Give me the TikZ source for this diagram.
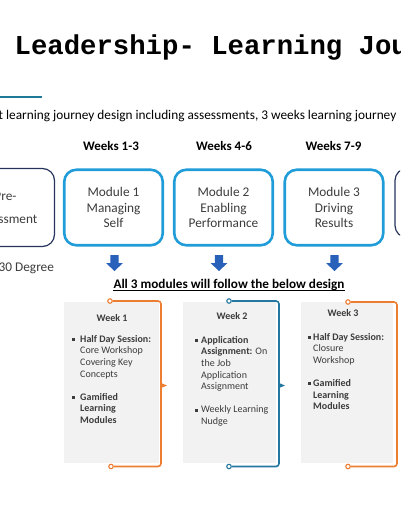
\documentclass[tikz,border=0pt]{standalone}
\usepackage{fontspec}
\setmainfont{Carlito}
\newfontfamily\monofont{Liberation Mono}
\usetikzlibrary{positioning}

\definecolor{modblue}{RGB}{32,156,216}
\definecolor{navyline}{RGB}{38,52,92}
\definecolor{arrowblue}{RGB}{40,96,186}
\definecolor{linkorange}{RGB}{237,125,49}
\definecolor{linkteal}{RGB}{36,120,160}
\definecolor{panelgray}{RGB}{242,242,242}
\definecolor{bodygray}{RGB}{60,60,60}
\definecolor{ruleteal}{RGB}{30,122,150}

\tikzset{
  modbox/.style={draw=modblue, line width=2.6pt, rounded corners=12pt, minimum width=98.5pt, minimum height=75.5pt, inner sep=0pt, align=center, text=bodygray, font=\fontsize{13.3}{15.5}\selectfont},
  sidebox/.style={draw=navyline, line width=1.2pt, rounded corners=12pt, inner sep=0pt, align=center, text=bodygray, font=\fontsize{13.3}{15.5}\selectfont},
  weekhead/.style={anchor=base, inner sep=0pt, font=\fontsize{13}{15}\selectfont\bfseries},
  weekpanel/.style={fill=panelgray, inner sep=0pt, minimum height=161pt},
  weeklabel/.style={anchor=base, inner sep=0pt, text=bodygray, font=\fontsize{10}{12}\selectfont\bfseries},
  weektext/.style={anchor=base west, inner sep=0pt, align=left, text=bodygray, font=\fontsize{10}{11.7}\selectfont},
  linkend/.style={circle, fill=white, line width=1.1pt, inner sep=0pt, minimum size=4.5pt},
  link/.style={line width=1.6pt, rounded corners=3pt},
}

\begin{document}
\begin{tikzpicture}[x=1pt,y=-1pt]
\useasboundingbox (0,0) rectangle (400,516);
\clip (0,0) rectangle (400,516);

\node (title) at (14.5,54.5) [anchor=base west, inner sep=0pt, font=\monofont\bfseries\fontsize{27.3}{30}\selectfont] {Leadership- Learning Jou};
\draw [ruleteal, line width=2pt] (0,96.7) -- (41.7,96.7);
\node (intro) at (-1.5,119.5) [anchor=base west, inner sep=0pt, font=\fontsize{13.3}{15}\selectfont] {t learning journey design including assessments, 3 weeks learning journey};

\node (wh1) at (111,150) [weekhead] {Weeks 1-3};
\node (wh2) at (224,150) [weekhead] {Weeks 4-6};
\node (wh3) at (333.5,150) [weekhead] {Weeks 7-9};

\node (pre) at (5.5,207.5) [sidebox, minimum width=98pt, minimum height=78pt] {Pre-\\[7.8pt]Assessment};
\node (mod1) at (113.5,207.5) [modbox] {Module 1\\Managing\\Self};
\node (mod2) at (223.5,207.5) [modbox] {Module 2\\Enabling\\Performance};
\node (mod3) at (334,207.5) [modbox] {Module 3\\Driving\\Results};
\node (post) at (445,203) [sidebox, minimum width=100pt, minimum height=69pt] {};
\node (deg) at (-1.5,271.5) [anchor=base west, inner sep=0pt, text=bodygray, font=\fontsize{13.3}{15.5}\selectfont] {30 Degree};

\foreach \ax in {114.5,219,334.5}
  \fill [arrowblue] (\ax-4.2,255) -- (\ax+4.2,255) -- (\ax+4.2,263) -- (\ax+8.5,263)
    -- (\ax,271) -- (\ax-8.5,263) -- (\ax-4.2,263) -- cycle;

\node (design) at (229,288) [anchor=base, inner sep=0pt, font=\fontsize{13.2}{15}\selectfont\bfseries] {All 3 modules will follow the below design};
\draw [line width=0.9pt] ([yshift=-2.8pt]design.base west) -- ([yshift=-2.8pt]design.base east);

\node (wk1) at (111.3,382.5) [weekpanel, minimum width=95.5pt] {};
\node (wk2) at (229.5,382.5) [weekpanel, minimum width=93pt] {};
\node (wk3) at (347,382.5) [weekpanel, minimum width=92pt] {};

\node (wl1) at (112,321) [weeklabel] {Week 1};
\node (wl2) at (232,319) [weeklabel] {Week 2};
\node (wl3) at (343,316.5) [weeklabel] {Week 3};

\node (wt1) at (80,423.6) [weektext] {\textbf{Half Day Session:}\\Core Workshop\\Covering Key\\Concepts\\[11.4pt]\textbf{Gamified}\\\textbf{Learning}\\\textbf{Modules}};
\node (wt2) at (201,424.6) [weektext] {\textbf{Application}\\\textbf{Assignment:} On\\the Job\\Application\\Assignment\\[11.4pt]Weekly Learning\\Nudge};
\node (wt3) at (313,409.9) [weektext] {\textbf{Half Day Session:}\\Closure\\Workshop\\[11.4pt]\textbf{Gamified}\\\textbf{Learning}\\\textbf{Modules}};

\foreach \bx/\by in {73/342,73/400,196/343,196/413,309/340,309/386}
  \fill [bodygray] (\bx-1.5,\by-4.5) rectangle (\bx+1.5,\by-1.5);

\node (l1a) at (110,301) [linkend, draw=linkorange] {};
\node (l1b) at (111,466.5) [linkend, draw=linkorange] {};
\draw [link, linkorange] (l1a) -- (161,301) -- (161,466.5) -- (l1b);
\fill [linkorange] (161,383) -- (167,385.5) -- (161,388) -- cycle;

\node (l2a) at (229,301) [linkend, draw=linkteal] {};
\node (l2b) at (229,466.5) [linkend, draw=linkteal] {};
\draw [link, linkteal] (l2a) -- (279,301) -- (279,466.5) -- (l2b);
\fill [linkteal] (279,383) -- (285,385.5) -- (279,388) -- cycle;

\node (l3a) at (348,302) [linkend, draw=linkorange] {};
\node (l3b) at (348,466.5) [linkend, draw=linkorange] {};
\draw [link, linkorange] (l3a) -- (397,302) -- (397,466.5) -- (l3b);
\end{tikzpicture}
\end{document}
